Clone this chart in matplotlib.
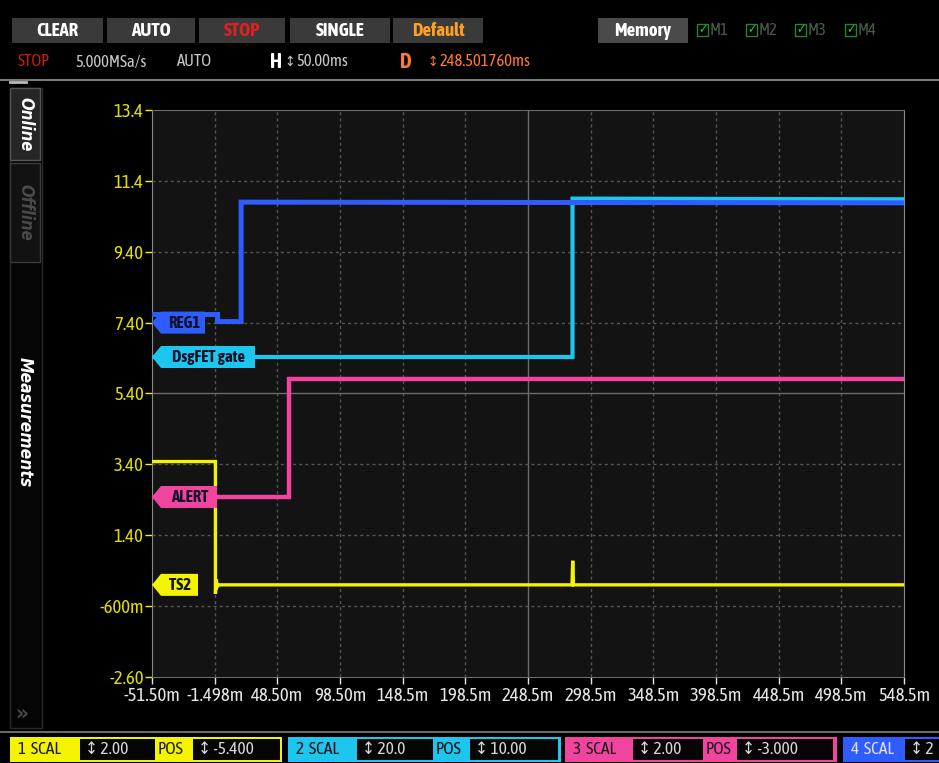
import numpy as np
import matplotlib
matplotlib.use("Agg")
from matplotlib import pyplot as plt
from matplotlib import font_manager as fm
from matplotlib.patches import Rectangle, Polygon
from matplotlib.transforms import blended_transform_factory

# ---- data (ms, display volts) ----
ts2_t = [-51.5, -0.9, -0.9, -0.2, 0.6, 1.5, 283.6, 284.2, 284.8, 548.5]
ts2_v = [3.48, 3.48, -0.25, 0.15, -0.05, 0.0, 0.0, 0.68, 0.0, 0.0]

reg1_t = [-51.5, 0.8, 0.8, 19.6, 19.6, 548.5]
reg1_v = [7.63, 7.63, 7.43, 7.43, 10.80, 10.78]

dsg_t = [-51.5, 284.0, 284.0, 548.5]
dsg_v = [6.43, 6.43, 10.90, 10.88]

alert_t = [-51.5, 57.6, 57.6, 548.5]
alert_v = [2.48, 2.48, 5.82, 5.82]

flag_names = ["REG1", "DsgFET gate", "ALERT", "TS2"]
flag_levels = [7.40, 6.43, 2.48, 0.0]

xticks = [-51.5 + 50 * k for k in range(13)]
xlabels = ["-51.50m", "-1.498m", "48.50m", "98.50m", "148.5m", "198.5m", "248.5m",
           "298.5m", "348.5m", "398.5m", "448.5m", "498.5m", "548.5m"]
yticks = [13.4, 11.4, 9.4, 7.4, 5.4, 3.4, 1.4, -0.6, -2.6]
ylabels = ["13.4", "11.4", "9.40", "7.40", "5.40", "3.40", "1.40", "-600m", "-2.60"]

YEL = "#f4f400"
CYA = "#1cc6ee"
MAG = "#f0449e"
BLU = "#2f5cff"


# look for a narrow face (scope UI uses a condensed font), prefer one with a bold weight
def is_bold(w):
    if isinstance(w, str):
        return w in ("bold", "heavy", "black", "semibold", "demibold", "extra bold")
    return w >= 600


fams = {}
for f in fm.fontManager.ttflist:
    if "Narrow" in f.name or "Condensed" in f.name:
        fams.setdefault(f.name, False)
        if is_bold(f.weight):
            fams[f.name] = True
narrow = None
for k, v in fams.items():
    if v:
        narrow = k
        break
if narrow is None and fams:
    narrow = list(fams)[0]
NARROW = [narrow, "DejaVu Sans"] if narrow else ["DejaVu Sans"]

W, H = 939, 763
fig = plt.figure(figsize=(W / 100, H / 100), dpi=100, facecolor="black")


def rect(x0, y0, x1, y1, fc, ec="none", lw=0.0):
    fig.patches.append(Rectangle((x0 / W, 1 - y1 / H), (x1 - x0) / W, (y1 - y0) / H,
                                 transform=fig.transFigure, fc=fc, ec=ec, lw=lw))


def txt(x, y, s, **kw):
    kw.setdefault("va", "center")
    kw.setdefault("family", NARROW)
    kw.setdefault("stretch", "condensed")
    fig.text(x / W, 1 - y / H, s, **kw)


def hline(y, x0, x1, color, lw=1.0):
    fig.add_artist(plt.Line2D([x0 / W, x1 / W], [1 - y / H, 1 - y / H], color=color, lw=lw,
                              transform=fig.transFigure))


# ---- top toolbar ----
buttons = [("CLEAR", 12, 103, "white"), ("AUTO", 107, 195, "white"), ("STOP", 199, 285, "#e02020"),
           ("SINGLE", 290, 390, "white"), ("Default", 393, 483, "#ffa020")]
for name, x0, x1, c in buttons:
    rect(x0, 18, x1, 43, "#3a3a3a")
    txt((x0 + x1) / 2, 30.5, name, color=c, fontsize=13.5, weight="bold", ha="center")
rect(598, 18, 688, 43, "#4a4a4a")
txt(643, 30.5, "Memory", color="white", fontsize=13.5, weight="bold", ha="center")
for i, x in enumerate([697, 746, 795, 845]):
    rect(x, 24, x + 11, 36, "none", ec="#1d8a2a", lw=1.0)
    txt(x + 1, 30, "\u2713", color="#2fc040", fontsize=9, family="DejaVu Sans")
    txt(x + 13, 30.5, "M%d" % (i + 1), color="#4a5a4a", fontsize=12)

txt(18, 62, "STOP", color="#d01818", fontsize=12)
txt(75, 62, "5.000MSa/s", color="#c8c8c8", fontsize=12)
txt(177, 62, "AUTO", color="#c8c8c8", fontsize=12)
txt(270, 62, "H", color="white", fontsize=15, weight="bold")
txt(284, 62, "\u2195", color="#c8c8c8", fontsize=10, family="DejaVu Sans")
txt(296, 62, "50.00ms", color="#c8c8c8", fontsize=12)
txt(400, 62, "D", color="#ff7a2a", fontsize=15, weight="bold")
txt(427, 62, "\u2195", color="#ff7a2a", fontsize=10, family="DejaVu Sans")
txt(440, 62, "248.501760ms", color="#ff7a2a", fontsize=12)

hline(80, 0, W, "#7a7a7a", lw=1.5)
hline(81.5, 10, 26, "#bbbbbb", lw=2)

# ---- left sidebar ----
rect(10, 88, 42, 728, "#050505", ec="#2a2a2a", lw=1)
rect(10, 88, 40, 160, "#262626", ec="#555555", lw=1)
rect(10, 163, 40, 262, "#121212", ec="#3a3a3a", lw=1)
txt(25, 124, "Online", color="white", fontsize=12, weight="bold", style="italic",
    rotation=-90, ha="center", family="DejaVu Sans")
txt(25, 212, "Offline", color="#4a4a4a", fontsize=12, weight="bold", style="italic",
    rotation=-90, ha="center", family="DejaVu Sans")
txt(25, 422, "Measurements", color="white", fontsize=12.5, weight="bold", style="italic",
    rotation=-90, ha="center", family="DejaVu Sans")
txt(22, 713, "\u00bb", color="#4a4a4a", fontsize=16, weight="bold", ha="center",
    family="DejaVu Sans")

hline(732, 0, W, "#6a6a6a", lw=1.5)

# ---- bottom channel bar ----
chan = [
    (1, YEL, 10, 282, "2.00", 80, 155, 193, 280, "-5.400"),
    (2, CYA, 288, 561, "20.0", 357, 433, 470, 558, "10.00"),
    (3, MAG, 565, 837, "2.00", 633, 703, 737, 833, "-3.000"),
    (4, BLU, 843, 960, "2", 905, 960, None, None, None),
]
for n, c, x0, x1, sc, s0, s1, p0, p1, pos in chan:
    rect(x0, 737, x1, 762, c)
    tcol = "#1a1a1a" if n in (1, 3) else ("#101010" if n == 2 else "#e0e0ff")
    txt(x0 + 8, 750, "%d  SCAL" % n, color=tcol, fontsize=12.5)
    rect(s0, 739, s1, 760, "#050505")
    txt(s0 + 5, 750, "\u2195 " + sc, color="#d8d8d8", fontsize=12.5)
    if pos is not None:
        txt(s1 + 3, 750, "POS", color=tcol, fontsize=12.5)
        rect(p0, 739, p1, 760, "#050505")
        txt(p0 + 5, 750, "\u2195 " + pos, color="#d8d8d8", fontsize=12.5)

# ---- scope graticule ----
ax = fig.add_axes([152 / W, 1 - 677 / H, 752 / W, 567 / H])
ax.set_facecolor("#131313")
ax.set_xlim(-51.5, 548.5)
ax.set_ylim(-2.6, 13.4)

for x in xticks[1:-1]:
    if x == 248.5:
        ax.axvline(x, color="#6a6a6a", lw=1.0, zorder=1)
    else:
        ax.axvline(x, color="#555555", lw=1.0, ls=(0, (2.2, 2.2)), zorder=1)
for y in yticks[1:-1]:
    if y == 5.4:
        ax.axhline(y, color="#6a6a6a", lw=1.0, zorder=1)
    else:
        ax.axhline(y, color="#555555", lw=1.0, ls=(0, (2.2, 2.2)), zorder=1)

ax.plot(alert_t, alert_v, color=MAG, lw=3.2, zorder=3, solid_joinstyle="miter")
ax.plot(dsg_t, dsg_v, color=CYA, lw=3.0, zorder=4, solid_joinstyle="miter")
ax.plot(reg1_t, reg1_v, color=BLU, lw=3.6, zorder=5, solid_joinstyle="miter")
ax.plot(ts2_t, ts2_v, color=YEL, lw=2.4, zorder=6, solid_joinstyle="miter")

# channel flags at left edge
tr = blended_transform_factory(ax.transAxes, ax.transData)
flag_cols = [BLU, CYA, MAG, YEL]
flag_w = [53, 103, 65, 46]
hh = 11 * 16 / 567
for name, lvl, c, wpx in zip(flag_names, flag_levels, flag_cols, flag_w):
    tip = 9 / 752
    wf = wpx / 752
    poly = Polygon([(0, lvl), (tip, lvl + hh), (wf, lvl + hh), (wf, lvl - hh), (tip, lvl - hh)],
                   closed=True, transform=tr, fc=c, ec="none", zorder=8, clip_on=False)
    ax.add_patch(poly)
    ax.text((tip + wf) / 2 + 1 / 752, lvl, name, transform=tr, ha="center", va="center",
            fontsize=12, weight="bold", color="#121228", zorder=9, family=NARROW,
            stretch="condensed")

ax.set_xticks(xticks)
ax.set_xticklabels(xlabels)
ax.set_yticks(yticks)
ax.set_yticklabels(ylabels)
ax.tick_params(axis="x", colors="#e6e6e6", length=5, width=1, direction="out", labelsize=13.5, pad=2)
ax.tick_params(axis="y", colors=YEL, length=5, width=1, direction="out", labelsize=13.5, pad=1)
for lab in ax.get_xticklabels() + ax.get_yticklabels():
    lab.set_family(NARROW)
    lab.set_stretch("condensed")
for lab in ax.get_yticklabels():
    lab.set_color("#e0e000")

for s in ["left", "right"]:
    ax.spines[s].set_color("#8a8a8a")
for s in ["top", "bottom"]:
    ax.spines[s].set_color("#6a6a6a")

fig.savefig("out.png", dpi=100, facecolor="black")
